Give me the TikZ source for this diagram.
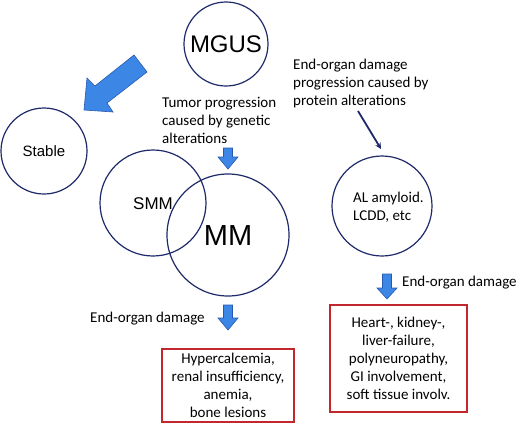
\documentclass[tikz,border=0pt]{standalone}
\usepackage{fontspec}
\setmainfont{Carlito}
\newfontfamily\arialf{Liberation Sans}
\usetikzlibrary{arrows.meta}
\definecolor{navy}{HTML}{1F2A6B}
\definecolor{fillblue}{HTML}{3C87E6}
\definecolor{edgeblue}{HTML}{2759B0}
\definecolor{boxred}{HTML}{C1272D}
\begin{document}
\begin{tikzpicture}[x=1pt,y=-1pt,
  circ/.style={circle, draw=navy, line width=1.2pt, inner sep=0pt},
  redbox/.style={draw=boxred, line width=1.3pt, inner sep=0pt, align=center, font=\fontsize{15}{18}\selectfont},
  lbl/.style={inner sep=0pt, align=left, font=\fontsize{15}{18}\selectfont},
  blockarrow/.style={fill=fillblue, draw=edgeblue, line width=0.6pt, line join=miter},
  thinarrow/.style={draw=navy, line width=1.8pt, -{Stealth[length=6pt,width=6pt]}}
]
\useasboundingbox[fill=white] (0,0) rectangle (520,426);

% circles
\node[circ, minimum size=84pt, font=\arialf\fontsize{24}{28}\selectfont] (mgus) at (226,44) {MGUS};
\node[circ, minimum size=86pt, font=\arialf\fontsize{15}{18}\selectfont] (stable) at (44,151) {Stable};
\node[circ, minimum size=106pt] (smm) at (153,203) {};
\node[circ, minimum size=122pt] (mm) at (228,235) {};
\node[circ, minimum size=100pt] (al) at (382,206) {};
\node[inner sep=0pt, font=\arialf\fontsize{17}{20}\selectfont] (smmtext) at (153,204) {SMM};
\node[inner sep=0pt, font=\arialf\fontsize{29}{32}\selectfont] (mmtext) at (228,236) {MM};
\node[lbl, anchor=west] (altext) at (353,207) {AL amyloid.\\LCDD, etc};

% labels
\node[lbl, anchor=west] (tumor) at (162,120) {Tumor progression\\caused by genetic\\alterations};
\node[lbl, anchor=west] (endorgtop) at (293,83) {End-organ damage\\progression caused by\\protein alterations};
\node[lbl, anchor=west] (endorgright) at (402,283) {End-organ damage};
\node[lbl, anchor=west] (endorgleft) at (90,319) {End-organ damage};

% boxes
\node[redbox, minimum width=132pt, minimum height=73pt] (box1) at (228,385.5)
  {Hypercalcemia,\\renal insufficiency,\\anemia,\\bone lesions};
\node[redbox, minimum width=137pt, minimum height=107pt] (box2) at (398.5,358.5)
  {Heart-, kidney-,\\liver-failure,\\polyneuropathy,\\GI involvement,\\soft tissue involv.};

% big arrow toward Stable
\draw[blockarrow] (134,55) -- (147,72) -- (107,103) -- (113,112) -- (84,110) -- (87,78) -- (95,86) -- cycle;

% down arrows
\draw[blockarrow] (223.5,148) -- (232.5,148) -- (232.5,157) -- (238,157) -- (228,169) -- (218,157) -- (223.5,157) -- cycle;
\draw[blockarrow] (382.5,274) -- (391.5,274) -- (391.5,288) -- (397,288) -- (387,299) -- (377,288) -- (382.5,288) -- cycle;
\draw[blockarrow] (223.5,305) -- (232.5,305) -- (232.5,318) -- (238,318) -- (228,330) -- (218,318) -- (223.5,318) -- cycle;

% thin arrow
\coordinate (thinstart) at (358,111);
\coordinate (thinend) at (381,149);
\draw[thinarrow] (thinstart) -- (thinend);
\end{tikzpicture}
\end{document}
